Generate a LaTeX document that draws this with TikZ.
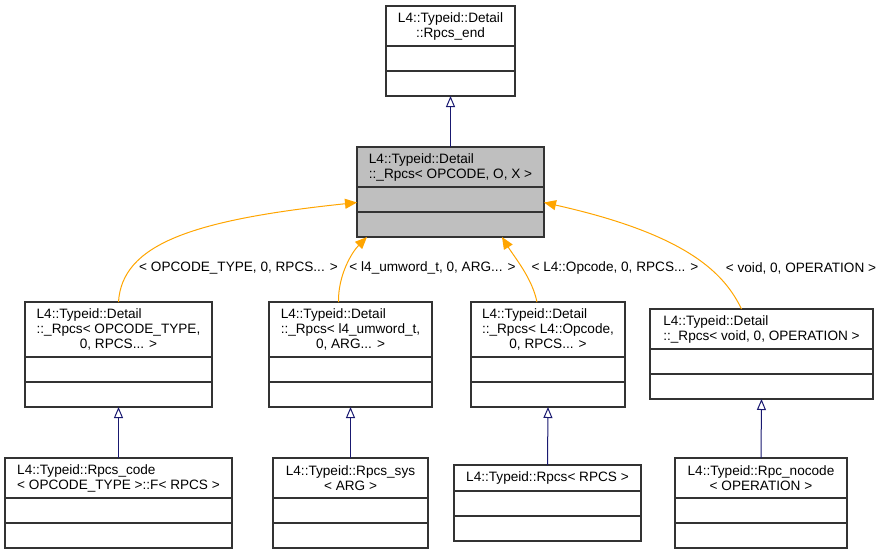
\documentclass[tikz,border=0pt]{standalone}
\usepackage{fontspec}
\setmainfont{Liberation Sans}
\usetikzlibrary{positioning, arrows.meta}
\definecolor{navy}{HTML}{191970}
\definecolor{tplorange}{HTML}{FFA500}
\definecolor{basegray}{HTML}{BFBFBF}
\newcommand{\midline}[1]{\hspace*{\fill}#1\hspace*{\fill}\mbox{}}
\newcommand{\umlclass}[7][white]{%
  \node[cls, fill=#1, minimum width=#5, minimum height=#6] (#2) at (#3,#4) {#7};
  \node[cmp, fill=#1, minimum width=#5, below=of #2] (#2-a) {};
  \node[cmp, fill=#1, minimum width=#5, below=of #2-a] (#2-b) {};
}

\begin{document}
\begin{tikzpicture}[x=1pt, y=-1pt, node distance=0pt, font=\fontsize{13.6}{15}\selectfont]
\tikzset{
  cls/.style={draw=black!80, line width=1.1pt, inner sep=2pt, outer sep=0pt, align=left},
  cmp/.style={cls, minimum height=25pt},
  inh/.style={draw=navy, line width=1pt, -{Triangle[open, fill=white, length=11pt, width=9pt]}},
  tpl/.style={draw=tplorange, line width=1pt, -{Triangle[length=12pt, width=10pt]}}
}
\useasboundingbox (0,0) rectangle (884,555);

% classes
\umlclass{end}{450.5}{26}{129}{40}{L4::Typeid::Detail\\\midline{::Rpcs\_end}}
\umlclass[basegray]{base}{450.5}{167}{187}{40}{L4::Typeid::Detail\\\midline{::\_Rpcs< OPCODE, O, X >}}

\umlclass{opc}{118.5}{329.5}{187}{55}{L4::Typeid::Detail\\::\_Rpcs< OPCODE\_TYPE,\\\midline{0, RPCS... >}}
\umlclass{umw}{350.5}{329.5}{163}{55}{L4::Typeid::Detail\\::\_Rpcs< l4\_umword\_t,\\\midline{0, ARG... >}}
\umlclass{l4op}{548}{329.5}{154}{55}{L4::Typeid::Detail\\::\_Rpcs< L4::Opcode,\\\midline{0, RPCS... >}}
\umlclass{void}{761.5}{329}{223}{40}{L4::Typeid::Detail\\\midline{::\_Rpcs< void, 0, OPERATION >}}

\umlclass{code}{118.5}{478}{227}{40}{L4::Typeid::Rpcs\_code\\\midline{< OPCODE\_TYPE >::F< RPCS >}}
\umlclass{sys}{350.5}{478}{155}{40}{L4::Typeid::Rpcs\_sys\\\midline{< ARG >}}
\umlclass{rpcs}{547.5}{478}{187}{26}{L4::Typeid::Rpcs< RPCS >}
\umlclass{nocode}{761}{478}{172}{40}{L4::Typeid::Rpc\_nocode\\\midline{< OPERATION >}}

% inheritance
\draw[inh] (base.north) -- (end-b.south);
\draw[inh] (code.north) -- (opc-b.south);
\draw[inh] (sys.north) -- (umw-b.south);
\draw[inh] (rpcs.north) -- (l4op-b.south);
\draw[inh] (nocode.north) -- (void-b.south);

% template instances
\draw[tpl] (opc.north) .. controls (122,245) and (190,220) .. ([yshift=-3pt]base-a.west);
\draw[tpl] ([xshift=-12pt]umw.north) .. controls (338,275) and (352,252) .. ([xshift=10pt]base-b.south west);
\draw[tpl] ([xshift=-11pt]l4op.north) .. controls (532,278) and (515,258) .. ([xshift=51.5pt]base-b.south);
\draw[tpl] ([xshift=-20pt]void.north) .. controls (725,275) and (690,235) .. ([yshift=-3pt]base-a.east);

\node (opc-lbl) at (238.5,268) {< OPCODE\_TYPE, 0, RPCS... >};
\node (umw-lbl) at (432.5,268) {< l4\_umword\_t, 0, ARG... >};
\node (l4op-lbl) at (615,268) {< L4::Opcode, 0, RPCS... >};
\node (void-lbl) at (801,268) {< void, 0, OPERATION >};
\end{tikzpicture}
\end{document}
